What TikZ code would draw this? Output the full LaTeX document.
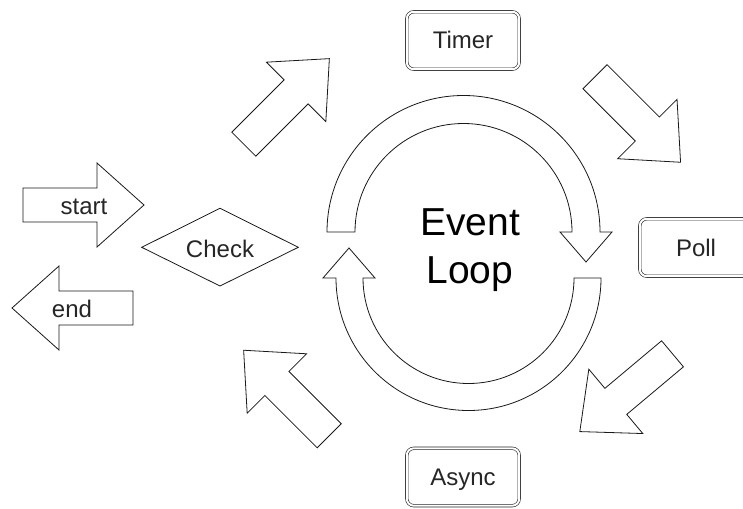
\documentclass[tikz,border=0pt]{standalone}
\usepackage{fontspec}
\setmainfont{Liberation Sans}
\tikzset{
  outline/.style={draw=black!90, line width=0.8pt, line join=miter, fill=white},
  lbl/.style={font=\fontsize{24}{28}\selectfont, text=black!85, inner sep=0pt},
  stagebox/.style={draw=black!85, double=white, double distance=2pt, line width=0.6pt,
    rounded corners=7pt, minimum width=112.4pt, minimum height=57.4pt, inner sep=0pt,
    font=\fontsize{24}{28}\selectfont, text=black!85, text height=17pt, text depth=0pt},
  blockarrow/.pic={
    \draw[outline] (0,-17) -- (74,-17) -- (74,-42) -- (121,0) -- (74,42) -- (74,17) -- (0,17) -- cycle;
  }
}
\begin{document}
\begin{tikzpicture}[x=1pt,y=-1pt]
\useasboundingbox (0,0) rectangle (743,508);
\clip (0,0) rectangle (743,508);

% entry / exit arrows
\pic (startarrow) at (23,205) {blockarrow};
\pic[rotate=180] (endarrow) at (133,308) {blockarrow};
\node[lbl, anchor=base] (start) at (84,214) {start};
\node[lbl, anchor=base] (end) at (72,317) {end};

% decision
\draw[outline] (141.7,247.3) -- (220,208.3) -- (298.3,247.3) -- (220,286) -- cycle;
\node[lbl, anchor=base] (check) at (220,257) {Check};

% arrows around the loop
\pic[rotate=45] (toTimer) at (243.8,144.2) {blockarrow};
\pic[rotate=-45] (toPoll) at (595,76.7) {blockarrow};
\pic[rotate=220] (toAsync) at (672.5,353.8) {blockarrow};
\pic[rotate=135] (toCheck) at (329.2,435.8) {blockarrow};

% phases
\node[stagebox] (timer) at (463,40.5) {Timer};
\node[stagebox] (poll) at (696,247.5) {Poll};
\node[stagebox] (async) at (463,477) {Async};

% circular loop arrows
\draw[outline] (327,232) arc[start angle=180, end angle=360, radius=136.5]
  -- (612,232) -- (586,262) -- (560,232) -- (572,232)
  arc[start angle=0, end angle=-180, radius=108.5] -- cycle;
\draw[outline] (601,278) arc[start angle=0, end angle=180, radius=132.5]
  -- (323,278) -- (349,248) -- (375,278) -- (363,278)
  arc[start angle=180, end angle=0, radius=105.5] -- cycle;

\node[font=\fontsize{39}{48}\selectfont, align=center, inner sep=0pt] (loop) at (470,250) {Event\\Loop};
\end{tikzpicture}
\end{document}
